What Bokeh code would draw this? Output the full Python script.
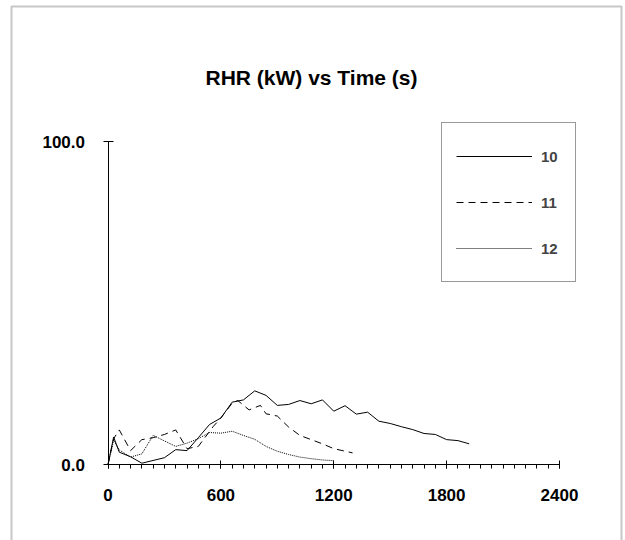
from bokeh.plotting import figure
from bokeh.models import (FixedTicker, Label, Legend, LegendItem, BoxAnnotation,
                          LinearAxis, NumeralTickFormatter, Range1d)
from bokeh.embed import file_html
from bokeh.resources import INLINE

# ---- data ----
t10 = [0, 30, 60, 120, 180, 300, 360, 420, 480, 540, 600, 660, 720, 780, 840, 900,
       960, 1020, 1080, 1140, 1200, 1260, 1320, 1380, 1440, 1500, 1560, 1620, 1680,
       1740, 1800, 1860, 1920]
v10 = [0, 8.5, 3.8, 2.4, 0.4, 2.1, 4.6, 4.3, 8.3, 12.4, 14.4, 19.3, 20.0, 22.8, 21.4,
       18.3, 18.6, 19.8, 18.8, 20.0, 16.5, 18.2, 15.6, 16.2, 13.4, 12.7, 11.7, 10.8,
       9.6, 9.3, 7.7, 7.4, 6.4]

t11 = [0, 30, 60, 120, 180, 240, 300, 360, 420, 480, 560, 600, 660, 690, 750, 810,
       840, 900, 960, 1020, 1140, 1200, 1300]
v11 = [0, 8.0, 10.7, 4.3, 7.7, 8.3, 9.3, 10.7, 4.9, 5.6, 11.8, 14.4, 19.0, 19.8, 16.9,
       18.3, 15.7, 15.0, 11.6, 9.0, 6.4, 4.9, 3.6]

t12 = [0, 30, 60, 120, 180, 240, 360, 420, 480, 540, 600, 660, 720, 780, 840, 900,
       960, 1020, 1080, 1140, 1200]
v12 = [0, 7.5, 4.5, 2.3, 3.3, 9.0, 5.6, 6.6, 8.0, 9.9, 9.7, 10.3, 9.0, 7.8, 5.6, 4.1,
       3.1, 2.3, 1.8, 1.4, 1.2]

x_ticks = [0, 600, 1200, 1800, 2400]
x_minor = list(range(0, 2401, 60))
y_ticks = [0, 100]
x_bounds = (0, 2400)
y_bounds = (0, 100)
title_text = "RHR (kW) vs Time (s)"
series_names = ["10", "11", "12"]

FONT = "Liberation Sans"
W, H = 625, 540
# pixel placement of the plotting area inside the canvas
PX_LEFT, PX_RIGHT, PX_TOP, PX_BOTTOM = 107.5, 559.0, 141.0, 464.0
sx = (PX_RIGHT - PX_LEFT) / (x_bounds[1] - x_bounds[0])
sy = (PX_BOTTOM - PX_TOP) / (y_bounds[1] - y_bounds[0])
xr = Range1d(x_bounds[0] - PX_LEFT / sx, x_bounds[1] + (W - PX_RIGHT) / sx)
yr = Range1d(y_bounds[0] - (H - PX_BOTTOM) / sy, y_bounds[1] + PX_TOP / sy)

p = figure(width=W, height=H, x_range=xr, y_range=yr,
           output_backend="svg", toolbar_location=None,
           x_axis_location=None, y_axis_location=None,
           min_border=0)
p.outline_line_color = None
p.xgrid.visible = False
p.ygrid.visible = False
p.background_fill_color = "white"
p.border_fill_color = "white"

# x axis
xa = LinearAxis(fixed_location=y_bounds[0], bounds=x_bounds,
                ticker=FixedTicker(ticks=x_ticks, minor_ticks=x_minor))
xa.major_tick_in = 4
xa.major_tick_out = 4
xa.minor_tick_in = 0
xa.minor_tick_out = 4
xa.major_label_standoff = 20
xa.major_label_text_font = FONT
xa.major_label_text_font_style = "bold"
xa.major_label_text_font_size = "17px"
xa.major_label_text_color = "black"
xa.axis_line_color = "black"
xa.major_tick_line_color = "black"
xa.minor_tick_line_color = "black"
p.add_layout(xa, "below")

# y axis
ya = LinearAxis(fixed_location=x_bounds[0], bounds=y_bounds,
                ticker=FixedTicker(ticks=y_ticks, minor_ticks=[]),
                formatter=NumeralTickFormatter(format="0.0"))
ya.major_tick_in = 5
ya.major_tick_out = 5
ya.minor_tick_in = 0
ya.minor_tick_out = 0
ya.major_label_standoff = 18
ya.major_label_text_font = FONT
ya.major_label_text_font_style = "bold"
ya.major_label_text_font_size = "17px"
ya.major_label_text_color = "black"
ya.axis_line_color = "black"
ya.major_tick_line_color = "black"
p.add_layout(ya, "left")

r10 = p.line(t10, v10, line_color="black", line_width=1)
r11 = p.line(t11, v11, line_color="black", line_width=1, line_dash="7 5")
r12 = p.line(t12, v12, line_color="black", line_width=1, line_dash="1 1")

legend = Legend(items=[LegendItem(label=series_names[0], renderers=[r10]),
                       LegendItem(label=series_names[1], renderers=[r11]),
                       LegendItem(label=series_names[2], renderers=[r12])],
                location=(441, H - 282), orientation="vertical",
                glyph_width=76, glyph_height=38, spacing=8, padding=14,
                label_standoff=9, margin=0,
                label_text_font=FONT, label_text_font_style="bold",
                label_text_font_size="15px",
                border_line_color="#333333", border_line_width=1,
                background_fill_color="white", background_fill_alpha=1)
p.add_layout(legend, "center")

title = Label(x=311, y=H - 77, x_units="screen", y_units="screen", text=title_text,
              text_font=FONT, text_font_size="21px", text_font_style="bold",
              text_align="center", text_baseline="alphabetic", text_color="black")
p.add_layout(title)

border = BoxAnnotation(left=11, right=621, top=H - 6, bottom=-50,
                       left_units="screen", right_units="screen",
                       top_units="screen", bottom_units="screen",
                       fill_alpha=0, line_color="#444444", line_width=2)
p.add_layout(border)

open("out.html", "w").write(file_html(p, INLINE))
